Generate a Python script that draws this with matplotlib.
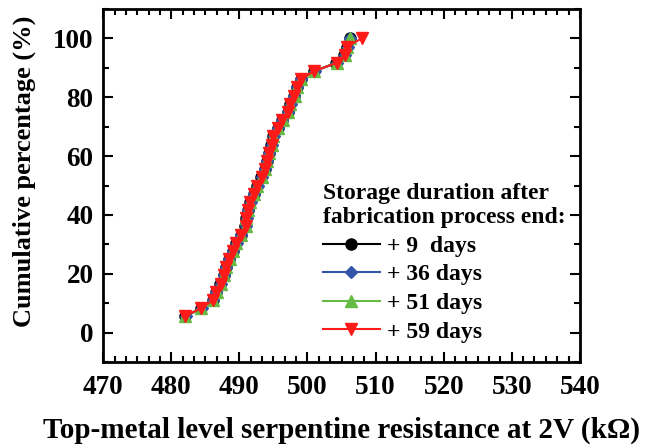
import matplotlib
matplotlib.use("Agg")
import matplotlib.pyplot as plt
from matplotlib.ticker import MultipleLocator, AutoMinorLocator

plt.rcParams['font.family'] = ['Liberation Serif', 'DejaVu Serif']
plt.rcParams['font.weight'] = 'bold'

# cumulative percentage (same for all storage durations)
cum_pct = [5.56, 8.33, 11.11, 13.89, 16.67, 19.44, 22.22, 25.0, 27.78, 30.56,
           33.33, 36.11, 38.89, 41.67, 44.44, 47.22, 50.0, 52.78, 55.56, 58.33,
           61.11, 63.89, 66.67, 69.44, 72.22, 75.0, 77.78, 80.56, 83.33, 86.11,
           88.89, 91.67, 94.44, 97.22, 100.0]

# resistance (kOhm) for each storage duration
r_9d = [482.0, 484.4, 486.1, 486.6, 487.2, 487.7, 488.0, 488.5, 489.0, 489.5,
        490.2, 490.8, 491.0, 491.2, 491.6, 492.1, 492.6, 493.2, 493.7, 494.0,
        494.3, 494.7, 495.0, 495.6, 496.3, 497.1, 497.5, 498.0, 498.4, 499.0,
        501.0, 504.2, 505.4, 505.8, 506.2]
r_36d = [482.1, 484.5, 486.2, 486.6, 487.3, 487.7, 488.1, 488.5, 489.1, 489.6,
         490.3, 490.9, 491.1, 491.2, 491.7, 492.1, 492.7, 493.3, 493.8, 494.1,
         494.3, 494.8, 495.1, 495.7, 496.3, 497.2, 497.6, 498.0, 498.5, 499.1,
         501.1, 504.3, 505.5, 505.9, 506.3]
r_51d = [482.0, 484.4, 486.2, 486.7, 487.3, 487.8, 488.0, 488.6, 489.0, 489.5,
         490.3, 490.9, 491.0, 491.3, 491.6, 492.2, 492.6, 493.3, 493.8, 494.0,
         494.4, 494.8, 495.0, 495.7, 496.4, 497.2, 497.5, 498.1, 498.4, 499.0,
         501.0, 504.3, 505.5, 505.8, 506.3]
r_59d = [482.0, 484.4, 486.2, 486.6, 487.3, 487.7, 488.0, 488.5, 489.0, 489.5,
         490.3, 490.9, 491.0, 491.2, 491.6, 492.1, 492.6, 493.3, 493.8, 494.0,
         494.3, 494.8, 495.0, 495.7, 496.3, 497.2, 497.5, 498.0, 498.4, 499.0,
         501.0, 504.3, 505.5, 505.8, 508.0]

series = [
    (r_9d, '+ 9  days', 'black', 'o'),
    (r_36d, '+ 36 days', '#3355aa', 'D'),
    (r_51d, '+ 51 days', '#66bb44', '^'),
    (r_59d, '+ 59 days', '#ff1a1a', 'v'),
]

fig = plt.figure(figsize=(6.53, 4.47), dpi=100)
ax = fig.add_axes([0.158, 0.190, 0.730, 0.790])

for xs, lab, col, mk in series:
    ms = 6 if mk == 'D' else 8
    ax.plot(xs, cum_pct, color=col, marker=mk, markersize=ms, lw=1.5, label=lab)

ax.set_xlim(470, 540)
ax.set_ylim(-10, 110)
ax.xaxis.set_major_locator(MultipleLocator(10))
ax.xaxis.set_minor_locator(AutoMinorLocator(6))
ax.yaxis.set_major_locator(MultipleLocator(20))
ax.yaxis.set_minor_locator(AutoMinorLocator(2))
ax.tick_params(which='both', direction='in', top=True, right=True, width=1.5,
               labelsize=19.5)
ax.tick_params(axis='x', pad=9)
ax.tick_params(axis='y', pad=7)
ax.tick_params(which='major', length=7)
ax.tick_params(which='minor', length=4)
for s in ax.spines.values():
    s.set_linewidth(2)

ax.set_xlabel('Top-metal level serpentine resistance at 2V (kΩ)',
              fontsize=21, fontweight='bold', labelpad=12)
ax.set_ylabel('Cumulative percentage (%)', fontsize=19, fontweight='bold')
ax.yaxis.set_label_coords(-0.14, 0.54)

leg = ax.legend(title='Storage duration after\nfabrication process end:',
                loc='lower right', bbox_to_anchor=(1.0, 0.015), frameon=False,
                fontsize=17, title_fontproperties={'size': 17, 'weight': 'bold'},
                handlelength=2.4, handletextpad=0.3, labelspacing=0.3,
                alignment='left', borderaxespad=0.2)

fig.savefig('out.png', dpi=100)
